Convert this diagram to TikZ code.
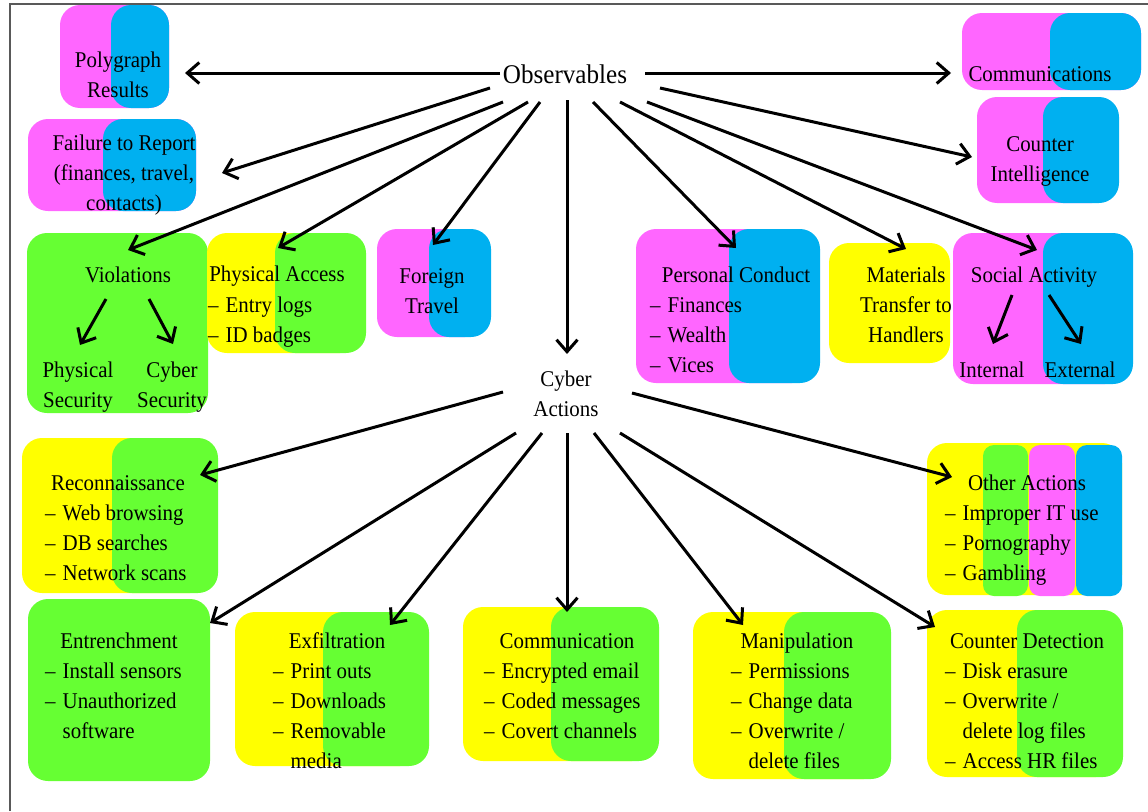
\documentclass[tikz,border=0pt]{standalone}
\usepackage{fontspec}
\setmainfont{Liberation Serif}[FakeStretch=0.93]
\usetikzlibrary{arrows.meta}
\definecolor{mag}{HTML}{FF66FF}
\definecolor{cyn}{HTML}{00B0F0}
\definecolor{yel}{HTML}{FFFF00}
\definecolor{grn}{HTML}{66FF33}
\newcommand{\fs}{\fontsize{22.5}{30}\selectfont}
\newcommand{\ct}[1]{\begin{tabular}[t]{@{}c@{}}#1\end{tabular}}
\newcommand{\lt}[1]{\begin{tabular}[t]{@{}l@{\hspace{7pt}}l@{}}#1\end{tabular}}
\tikzset{
  txt/.style={inner sep=0pt, font=\fs, anchor=base},
  lst/.style={inner sep=0pt, font=\fs, anchor=base west},
  arr/.style={line width=3pt, -{Straight Barb[length=12pt,width=21pt]}},
  bx/.style={rounded corners=20pt},
  sbx/.style={rounded corners=11pt},
  frame/.style={line width=1.6pt, black!65},
}
\begin{document}
\begin{tikzpicture}[x=1pt,y=-1pt]
\useasboundingbox (0,0) rectangle (1148,811);
\draw[frame] (10,811) -- (10,4) -- (1148,4);

% ---- boxes (backgrounds)
\fill[mag,bx] (60,5) rectangle (169,108);   \fill[cyn,bx] (111,5) rectangle (169,108);
\fill[mag,bx] (28,119) rectangle (196,211); \fill[cyn,bx] (103,119) rectangle (196,211);
\fill[mag,bx] (962,13) rectangle (1141,90); \fill[cyn,bx] (1050,13) rectangle (1141,90);
\fill[mag,bx] (977,97) rectangle (1112,203); \fill[cyn,bx] (1043,97) rectangle (1119,203);
\fill[grn,bx] (27,233) rectangle (208,413);
\fill[yel,bx] (207,233) rectangle (360,353); \fill[grn,bx] (275,233) rectangle (366,353);
\fill[mag,bx] (377,229) rectangle (485,337); \fill[cyn,bx] (429,229) rectangle (491,337);
\fill[mag,bx] (636,229) rectangle (812,383); \fill[cyn,bx] (729,229) rectangle (820,383);
\fill[yel,bx] (829,243) rectangle (950,363);
\fill[mag,bx] (953,233) rectangle (1125,384); \fill[cyn,bx] (1043,233) rectangle (1133,384);
\fill[yel,bx] (22,438) rectangle (210,593); \fill[grn,bx] (112,438) rectangle (218,593);
\fill[grn,bx] (28,599) rectangle (210,781);
\fill[yel,bx] (235,612) rectangle (420,766); \fill[grn,bx] (323,612) rectangle (429,766);
\fill[yel,bx] (463,607) rectangle (652,761); \fill[grn,bx] (551,607) rectangle (659,761);
\fill[yel,bx] (693,612) rectangle (884,779); \fill[grn,bx] (784,612) rectangle (891,779);
\fill[yel,bx] (927,610) rectangle (1116,777); \fill[grn,bx] (1017,610) rectangle (1123,777);
\fill[yel,bx] (927,443) rectangle (1122,595);
\fill[grn,sbx] (983,445) rectangle (1028,596);
\fill[mag,sbx] (1029,445) rectangle (1075,596);
\fill[cyn,sbx] (1076,445) rectangle (1122,596);

% ---- hub texts
\node[txt, font=\fontsize{27}{32}\selectfont] (obs) at (565,83) {Observables};
\node[txt] (cyb) at (566,386) {\ct{Cyber\\Actions}};

% ---- box texts
\node[txt] (poly) at (118,67) {\ct{Polygraph\\Results}};
\node[txt] (fail) at (124,150) {\ct{Failure to Report\\(finances, travel,\\contacts)}};
\node[txt] (comms) at (1040,81) {Communications};
\node[txt] (ci) at (1040,151) {\ct{Counter\\Intelligence}};
\node[txt] (viol) at (128,282) {Violations};
\node[txt] (physsec) at (78,377) {\ct{Physical\\Security}};
\node[txt] (cybsec) at (172,377) {\ct{Cyber\\Security}};
\node[txt] (pa) at (277,281) {Physical Access};
\node[lst] (pal) at (208,312) {\lt{–&Entry logs\\–&ID badges}};
\node[txt] (ft) at (432,283) {\ct{Foreign\\Travel}};
\node[txt] (pc) at (736,282) {Personal Conduct};
\node[lst] (pcl) at (650,312) {\lt{–&Finances\\–&Wealth\\–&Vices}};
\node[txt] (mat) at (906,282) {\ct{Materials\\Transfer to\\Handlers}};
\node[txt] (soc) at (1034,282) {Social Activity};
\node[txt] (int) at (992,377) {Internal};
\node[txt] (ext) at (1080,377) {External};
\node[txt] (rec) at (118,490) {Reconnaissance};
\node[lst] (recl) at (45,520) {\lt{–&Web browsing\\–&DB searches\\–&Network scans}};
\node[txt] (ent) at (119,648) {Entrenchment};
\node[lst] (entl) at (45,678) {\lt{–&Install sensors\\–&Unauthorized\\&software}};
\node[txt] (exf) at (337,648) {Exfiltration};
\node[lst] (exfl) at (273,678) {\lt{–&Print outs\\–&Downloads\\–&Removable\\&media}};
\node[txt] (com) at (567,648) {Communication};
\node[lst] (coml) at (484,678) {\lt{–&Encrypted email\\–&Coded messages\\–&Covert channels}};
\node[txt] (man) at (797,648) {Manipulation};
\node[lst] (manl) at (731,678) {\lt{–&Permissions\\–&Change data\\–&Overwrite /\\&delete files}};
\node[txt] (cd) at (1027,648) {Counter Detection};
\node[lst] (cdl) at (945,678) {\lt{–&Disk erasure\\–&Overwrite /\\&delete log files\\–&Access HR files}};
\node[txt] (oa) at (1027,490) {Other Actions};
\node[lst] (oal) at (945,520) {\lt{–&Improper IT use\\–&Pornography\\–&Gambling}};

% ---- connector end points
\coordinate (o1) at (500,73);  \coordinate (t1) at (185,73);
\coordinate (o2) at (645,73);  \coordinate (t2) at (951,73);
\coordinate (o3) at (490,88);  \coordinate (t3) at (222,173);
\coordinate (o4) at (660,88);  \coordinate (t4) at (972,157);
\coordinate (o5) at (503,102); \coordinate (t5) at (128,250);
\coordinate (o6) at (528,102); \coordinate (t6) at (278,248);
\coordinate (o7) at (540,102); \coordinate (t7) at (433,245);
\coordinate (o8) at (567,100); \coordinate (t8) at (567,354);
\coordinate (o9) at (593,102); \coordinate (t9) at (736,248);
\coordinate (o10) at (620,102); \coordinate (t10) at (906,249);
\coordinate (o11) at (647,102); \coordinate (t11) at (1037,250);
\coordinate (c1) at (503,392); \coordinate (u1) at (200,475);
\coordinate (c2) at (632,393); \coordinate (u2) at (952,477);
\coordinate (c3) at (516,433); \coordinate (u3) at (210,623);
\coordinate (c4) at (542,433); \coordinate (u4) at (390,625);
\coordinate (c5) at (567,433); \coordinate (u5) at (567,612);
\coordinate (c6) at (594,433); \coordinate (u6) at (743,625);
\coordinate (c7) at (620,433); \coordinate (u7) at (935,627);
\coordinate (v0) at (106,299); \coordinate (v1) at (80,345);
\coordinate (v2) at (149,299); \coordinate (v3) at (173,344);
\coordinate (s0) at (1012,295); \coordinate (s1) at (993,344);
\coordinate (s2) at (1049,295); \coordinate (s3) at (1081,344);

% ---- connectors
\foreach \a/\b in {o1/t1,o2/t2,o3/t3,o4/t4,o5/t5,o6/t6,o7/t7,o8/t8,o9/t9,o10/t10,o11/t11,
  c1/u1,c2/u2,c3/u3,c4/u4,c5/u5,c6/u6,c7/u7,v0/v1,v2/v3,s0/s1,s2/s3}
  \draw[arr] (\a) -- (\b);
\end{tikzpicture}
\end{document}
